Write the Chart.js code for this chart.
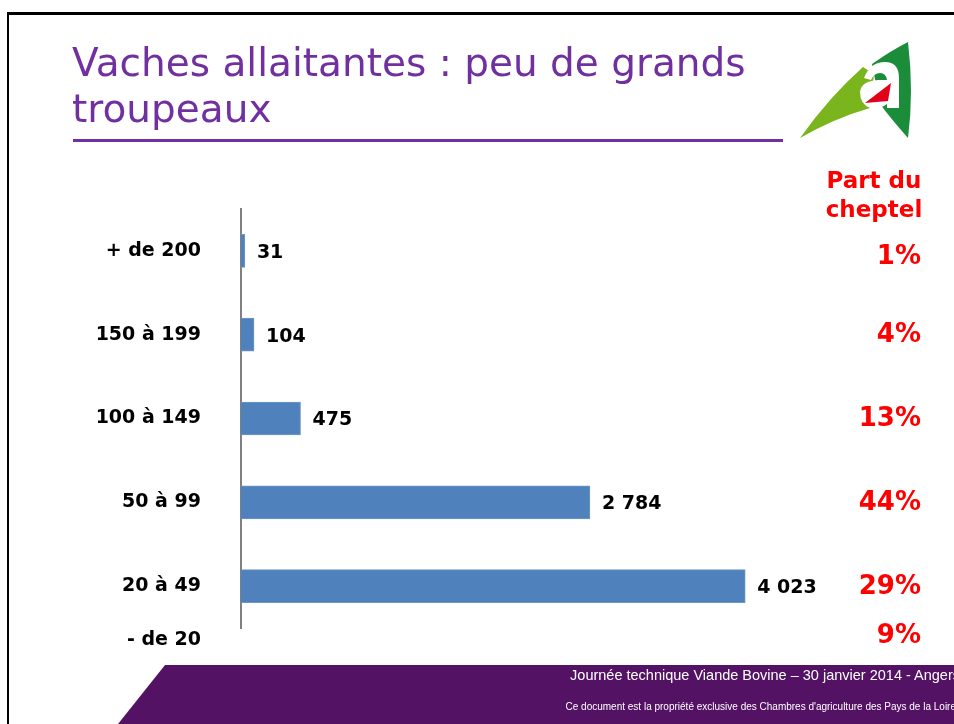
<!DOCTYPE html>
<html>
<head>
<meta charset="utf-8">
<script src="https://cdn.jsdelivr.net/npm/chart.js@4/dist/chart.umd.min.js"></script>
<style>
  html, body { margin: 0; padding: 0; background: #fff; }
  #page { position: relative; width: 954px; height: 724px; overflow: hidden; background: #fff; }
  #chart { position: absolute; left: 0; top: 0; }
  .frame-top { position: absolute; left: 7px; top: 12px; width: 960px; height: 3px; background: #000; }
  .frame-left { position: absolute; left: 7px; top: 12px; width: 2px; height: 712px; background: #000; }
  .title { position: absolute; left: 72px; top: 40px; font-family: "DejaVu Sans", Verdana, sans-serif;
           font-size: 39px; line-height: 46px; color: #7030A0; white-space: nowrap; }
  .rule { position: absolute; left: 73px; top: 139px; width: 710px; height: 3px; background: #7030A0; }
  .part { position: absolute; left: 801px; top: 166px; width: 146px; text-align: center;
          font-family: "DejaVu Sans", Verdana, sans-serif; font-weight: bold; font-size: 23px;
          line-height: 29px; color: #ff0000; }
  .footer-text { position: absolute; right: -6px; top: 667px; font-family: "Liberation Sans", Arial, sans-serif;
                 font-size: 14.5px; color: #fff; white-space: nowrap; }
  .footer-small { position: absolute; right: -2px; top: 701px; font-family: "Liberation Sans", Arial, sans-serif;
                  font-size: 10px; color: #fff; white-space: nowrap; }
  svg { position: absolute; left: 0; top: 0; }
</style>
</head>
<body>
<div id="page">
  <svg width="954" height="724">
    <polygon points="165,665 960,665 960,724 118,724" fill="#541265"/>
    <!-- logo -->
    <path d="M872,64 Q892,50 908,42 Q914,92 908,138 Q892,120 880,104 Z" fill="#1B8C3A"/>
    <path d="M800,138 Q830,96 863,67 L874,74 L870,108 Q835,118 800,138 Z" fill="#7AB51D"/>
    <path d="M864,78 Q870,62 885,62 Q899,62 899,78 L899,108 L887,108 L887,104 Q879,110 870,108 Q860,104 860,92 Q861,81 878,80 L887,80 Q886,73 880,73 Q874,73 871,80 Z" fill="#fff"/>
    <polygon points="865,103 891,83 888,101" fill="#E3001B"/>
  </svg>
  <canvas id="chart" width="954" height="724"></canvas>
  <div class="frame-top"></div>
  <div class="frame-left"></div>
  <div class="title">Vaches allaitantes : peu de grands<br>troupeaux</div>
  <div class="rule"></div>
  <div class="part">Part du<br>cheptel</div>
  <div class="footer-text">Journée technique Viande Bovine – 30 janvier 2014 - Angers</div>
  <div class="footer-small">Ce document est la propriété exclusive des Chambres d'agriculture des Pays de la Loire</div>
</div>
<script>
const categories = ['+ de 200', '150 à 199', '100 à 149', '50 à 99', '20 à 49'];
const herdCounts = [31, 104, 475, 2784, 4023];
const cheptelShares = ['1%', '4%', '13%', '44%', '29%'];
const smallCategory = '- de 20';
const smallShare = '9%';

const formatCount = (value) => String(value).replace(/\B(?=(\d{3})+(?!\d))/g, ' ');

const labelFont = 'bold 19px "DejaVu Sans", Verdana, sans-serif';

const overlayLabels = {
  id: 'overlayLabels',
  afterDatasetsDraw(chart) {
    const ctx = chart.ctx;
    const meta = chart.getDatasetMeta(0);
    const yScale = chart.scales.y;
    ctx.save();
    ctx.textBaseline = 'middle';

    // values at the end of each bar
    ctx.font = labelFont;
    ctx.fillStyle = '#000';
    ctx.textAlign = 'left';
    meta.data.forEach((bar, i) => {
      ctx.fillText(formatCount(herdCounts[i]), bar.x + 12, bar.y + 2);
    });

    // share of the herd, right column
    ctx.font = 'bold 26px "DejaVu Sans", Verdana, sans-serif';
    ctx.fillStyle = '#ff0000';
    ctx.textAlign = 'right';
    cheptelShares.forEach((share, i) => {
      const shift = i === 0 ? 6 : 1;
      ctx.fillText(share, 921, yScale.getPixelForValue(i) + shift);
    });

    // the "- de 20" row sits below the axis
    const lastY = yScale.getPixelForValue(categories.length - 1);
    ctx.fillText(smallShare, 921, lastY + 50);
    ctx.font = labelFont;
    ctx.fillStyle = '#000';
    ctx.fillText(smallCategory, 201, lastY + 54);
    ctx.restore();
  }
};

new Chart(document.getElementById('chart'), {
  type: 'bar',
  data: {
    labels: categories,
    datasets: [{
      data: herdCounts,
      backgroundColor: '#4F81BD',
      borderColor: '#6E97C8',
      borderWidth: 1,
      borderSkipped: 'left',
      barThickness: 33
    }]
  },
  options: {
    indexAxis: 'y',
    responsive: false,
    animation: false,
    devicePixelRatio: 1,
    layout: {
      padding: { top: 209, bottom: 96, right: 149, left: 0 }
    },
    plugins: {
      legend: { display: false },
      title: { display: false },
      tooltip: { enabled: false }
    },
    scales: {
      x: {
        display: false,
        min: 0,
        max: 4500
      },
      y: {
        afterFit: (scale) => { scale.width = 241; },
        grid: { display: false, drawTicks: false },
        border: { display: true, color: '#808080', width: 2 },
        ticks: {
          padding: 40,
          color: '#000',
          font: { family: '"DejaVu Sans", Verdana, sans-serif', size: 19, weight: 'bold' }
        }
      }
    }
  },
  plugins: [overlayLabels]
});
</script>
</body>
</html>
